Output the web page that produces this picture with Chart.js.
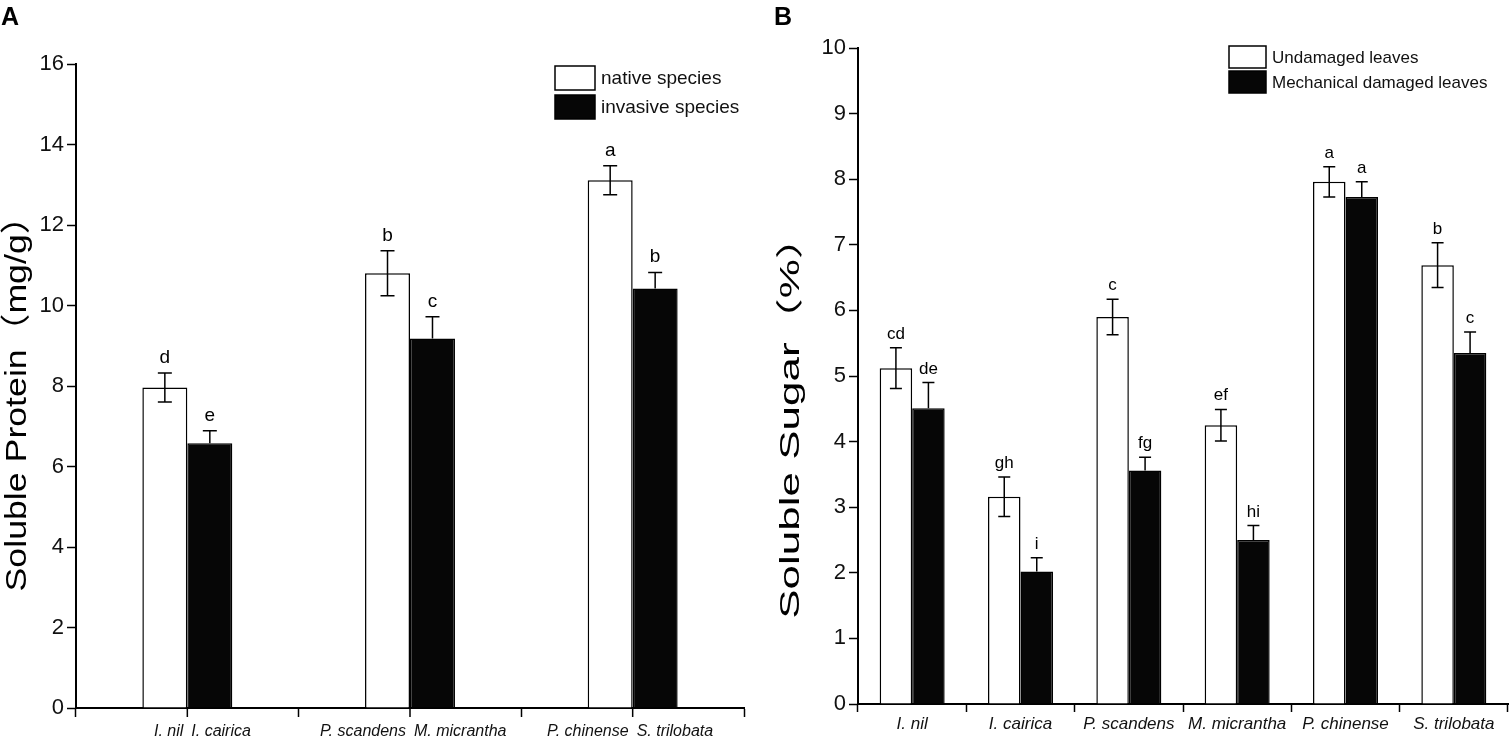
<!DOCTYPE html>
<html>
<head>
<meta charset="utf-8">
<script src="https://cdn.jsdelivr.net/npm/chart.js@4.4.1/dist/chart.umd.min.js"></script>
<style>
  html, body { margin: 0; padding: 0; background: #fff; }
  #wrapA { position: absolute; left: 0; top: 0; width: 760px; height: 742px; }
  #wrapB { position: absolute; left: 760px; top: 0; width: 751px; height: 742px; }
</style>
</head>
<body>
<div id="wrapA"><canvas id="chartA"></canvas></div>
<div id="wrapB"><canvas id="chartB"></canvas></div>
<script>
// Panel A - soluble protein, native vs invasive pairs
const nativeA = ['I. nil', 'P. scandens', 'P. chinense'];
const invasiveA = ['I. cairica', 'M. micrantha', 'S. trilobata'];
const proteinNative = [7.96, 10.80, 13.11];
const proteinNativeErr = [0.36, 0.56, 0.36];
const proteinInvasive = [6.58, 9.18, 10.42];
const proteinInvasiveErr = [0.31, 0.54, 0.40];
const lettersNativeA = ['d', 'b', 'a'];
const lettersInvasiveA = ['e', 'c', 'b'];

// Panel B - soluble sugar, undamaged vs mechanically damaged leaves
const speciesB = ['I. nil', 'I. cairica', 'P. scandens', 'M. micrantha', 'P. chinense', 'S. trilobata'];
const sugarUndamaged = [5.12, 3.16, 5.90, 4.25, 7.96, 6.69];
const sugarUndamagedErr = [0.31, 0.30, 0.27, 0.24, 0.23, 0.34];
const sugarDamaged = [4.51, 2.02, 3.56, 2.50, 7.73, 5.35];
const sugarDamagedErr = [0.39, 0.21, 0.20, 0.22, 0.23, 0.32];
const lettersUndamaged = ['cd', 'gh', 'c', 'ef', 'a', 'b'];
const lettersDamaged = ['de', 'i', 'fg', 'hi', 'a', 'c'];

const FONT = '"Liberation Sans", Arial, "Noto Sans CJK SC", sans-serif';
Chart.defaults.font.family = FONT;
Chart.defaults.color = '#111';

// error bars, letters, legend, panel letter and rotated axis title
const annotate = {
    id: 'annotate',
    afterDraw(chart, args, o) {
        const ctx = chart.ctx;
        const area = chart.chartArea;
        const xs = chart.scales.x, ys = chart.scales.y;
        ctx.save();
        ctx.fillStyle = '#000';
        ctx.strokeStyle = '#000';

        ctx.font = 'bold 25px ' + FONT;
        ctx.textAlign = 'left';
        ctx.textBaseline = 'alphabetic';
        ctx.fillText(o.panel, o.panelX, o.panelY);

        // y title, stretched along its length like the original figure
        ctx.save();
        ctx.translate(o.titleX, o.titleY);
        ctx.rotate(-Math.PI / 2);
        ctx.scale(o.titleStretch, 1);
        ctx.textAlign = 'center';
        ctx.textBaseline = 'middle';
        ctx.font = o.titleFont;
        ctx.fillText(o.title, 0, 0);
        ctx.restore();

        ctx.lineWidth = 1.5;
        chart.data.datasets.forEach((ds, di) => {
            const meta = chart.getDatasetMeta(di);
            const dark = ds.backgroundColor !== '#ffffff';
            meta.data.forEach((bar, i) => {
                const v = ds.data[i], e = ds.errors[i];
                const yt = ys.getPixelForValue(v + e), yb = ys.getPixelForValue(v - e);
                ctx.beginPath();
                ctx.moveTo(bar.x - o.cap, yt); ctx.lineTo(bar.x + o.cap, yt);
                if (dark) {
                    ctx.moveTo(bar.x, yt); ctx.lineTo(bar.x, bar.y);
                } else {
                    ctx.moveTo(bar.x, yt); ctx.lineTo(bar.x, yb);
                    ctx.moveTo(bar.x - o.cap, yb); ctx.lineTo(bar.x + o.cap, yb);
                }
                ctx.stroke();
                ctx.font = o.letterFont;
                ctx.textAlign = 'center';
                ctx.textBaseline = 'alphabetic';
                ctx.fillText(ds.letters[i], bar.x, yt - o.letterGap);
            });
        });

        // legend
        const lg = o.legend;
        chart.data.datasets.forEach((ds, di) => {
            const by = lg.y + di * lg.step;
            ctx.fillStyle = ds.backgroundColor;
            ctx.fillRect(lg.x, by, lg.w, lg.h);
            ctx.lineWidth = 1.5;
            ctx.strokeRect(lg.x, by, lg.w, lg.h);
            ctx.fillStyle = '#111';
            ctx.font = lg.font;
            ctx.textAlign = 'left';
            ctx.textBaseline = 'middle';
            ctx.fillText(ds.label, lg.x + lg.w + 6, by + lg.h / 2 + 1);
        });

        // split species labels under each pair (panel A)
        if (o.pairLabels) {
            ctx.font = 'italic 16px ' + FONT;
            ctx.textBaseline = 'alphabetic';
            ctx.lineWidth = 1.5;
            o.pairLabels[0].forEach((name, i) => {
                const px = xs.getPixelForTick(i);
                ctx.beginPath();
                ctx.moveTo(px, area.bottom); ctx.lineTo(px, area.bottom + 9);
                ctx.stroke();
                ctx.textAlign = 'right';
                ctx.fillText(name, px - 4, area.bottom + 28);
                ctx.textAlign = 'left';
                ctx.fillText(o.pairLabels[1][i], px + 4, area.bottom + 28);
            });
        }
        ctx.restore();
    }
};

function axisY(max, step, width) {
    return {
        min: 0, max: max,
        ticks: { stepSize: step, font: { size: 22 }, color: '#111', padding: 3 },
        grid: { drawOnChartArea: false, tickLength: 9, tickColor: '#000', tickWidth: 1.5 },
        border: { color: '#000', width: 2 },
        afterFit: s => { s.width = width; }
    };
}

new Chart(document.getElementById('chartA'), {
    type: 'bar',
    data: {
        labels: nativeA.map((n, i) => n + ' / ' + invasiveA[i]),
        datasets: [
            { label: 'native species', data: proteinNative, errors: proteinNativeErr, letters: lettersNativeA,
              backgroundColor: '#ffffff', borderColor: '#000', borderWidth: 1.5 },
            { label: 'invasive species', data: proteinInvasive, errors: proteinInvasiveErr, letters: lettersInvasiveA,
              backgroundColor: '#060606', borderColor: '#000', borderWidth: 1.5 }
        ]
    },
    options: {
        responsive: true, maintainAspectRatio: false, animation: false,
        layout: { padding: { top: 64, right: 16, left: 0, bottom: 0 } },
        categoryPercentage: 0.404, barPercentage: 1.0,
        plugins: {
            legend: { display: false }, tooltip: { enabled: false },
            annotate: {
                panel: 'A', panelX: 1, panelY: 25,
                title: 'Soluble Protein（mg/g）', titleX: 18, titleY: 395, titleFont: '30px ' + FONT, titleStretch: 1.19,
                cap: 7, letterGap: 10, letterFont: '19px ' + FONT,
                legend: { x: 555, y: 66, w: 40, h: 24, step: 29, font: '19px ' + FONT },
                pairLabels: [nativeA, invasiveA]
            }
        },
        scales: {
            x: {
                ticks: { display: false },
                grid: { offset: true, drawOnChartArea: false, tickLength: 9, tickColor: '#000', tickWidth: 1.5 },
                border: { color: '#000', width: 2 },
                afterFit: s => { s.height = 34; }
            },
            y: axisY(16, 2, 76)
        }
    },
    plugins: [annotate]
});

new Chart(document.getElementById('chartB'), {
    type: 'bar',
    data: {
        labels: speciesB,
        datasets: [
            { label: 'Undamaged leaves', data: sugarUndamaged, errors: sugarUndamagedErr, letters: lettersUndamaged,
              backgroundColor: '#ffffff', borderColor: '#000', borderWidth: 1.5 },
            { label: 'Mechanical damaged leaves', data: sugarDamaged, errors: sugarDamagedErr, letters: lettersDamaged,
              backgroundColor: '#060606', borderColor: '#000', borderWidth: 1.5 }
        ]
    },
    options: {
        responsive: true, maintainAspectRatio: false, animation: false,
        layout: { padding: { top: 48, right: 3, left: 0, bottom: 0 } },
        categoryPercentage: 0.6, barPercentage: 1.0,
        plugins: {
            legend: { display: false }, tooltip: { enabled: false },
            annotate: {
                panel: 'B', panelX: 14, panelY: 25,
                title: 'Soluble Sugar（%）', titleX: 32, titleY: 417, titleFont: '27px ' + FONT, titleStretch: 1.63,
                cap: 6, letterGap: 9, letterFont: '17px ' + FONT,
                legend: { x: 469, y: 46, w: 37, h: 22, step: 25, font: '17px ' + FONT }
            }
        },
        scales: {
            x: {
                ticks: { font: { size: 17, style: 'italic' }, color: '#111', padding: 2, maxRotation: 0, autoSkip: false },
                grid: { offset: true, drawOnChartArea: false, tickLength: 8, tickColor: '#000', tickWidth: 1.5 },
                border: { color: '#000', width: 2 },
                afterFit: s => { s.height = 38; }
            },
            y: axisY(10, 1, 98)
        }
    },
    plugins: [annotate]
});
</script>
</body>
</html>
